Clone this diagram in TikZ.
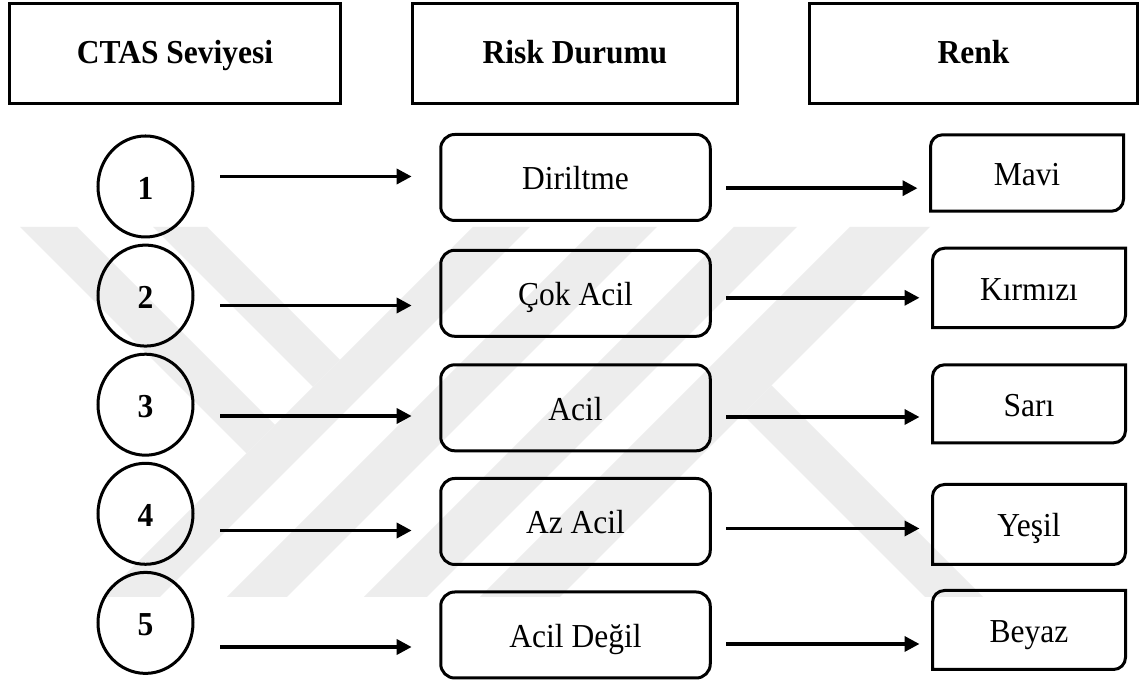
\documentclass[tikz,border=0pt]{standalone}
\usepackage{fontspec}
\setmainfont{Liberation Serif}[FakeStretch=0.94]
\usetikzlibrary{arrows.meta,shapes.geometric,calc}
\definecolor{wmark}{RGB}{237,237,237}
\begin{document}
\begin{tikzpicture}[x=1pt,y=1pt,
  txt/.style={font=\fontsize{33.5}{38}\selectfont},
  hdr/.style={draw, line width=3pt, inner sep=0pt, minimum width=#1, minimum height=100pt,
    text height=21pt, text depth=0pt, font=\fontsize{33.5}{38}\selectfont\bfseries},
  cnum/.style={ellipse, draw, line width=3pt, inner sep=0pt, minimum width=95pt, minimum height=101pt,
    text height=26pt, text depth=0pt, font=\fontsize{33.5}{38}\selectfont\bfseries},
  mbox/.style={draw, line width=3pt, rounded corners=14pt, inner sep=0pt, minimum width=269.5pt,
    minimum height=86pt, text height=25pt, text depth=0pt, txt},
  rbox/.style={inner sep=0pt, outer sep=0pt, minimum width=193pt, minimum height=#1,
    text height=25pt, text depth=0pt, txt},
  rline/.style={line width=3pt},
  arr/.style={line width=3.5pt, -{Triangle[length=15pt,width=15pt]}},
  larr/.style={arr, shorten <=25.5pt, shorten >=27.6pt},
  rarr/.style={arr, shorten <=14.3pt, shorten >=13pt}
]
\useasboundingbox (0,0) rectangle (1141,684);
\fill[white] (0,0) rectangle (1141,684);

% watermark (pixel coordinates, y downwards)
\begin{scope}[shift={(0,684)}, yscale=-1]
  \fill[wmark] (473,227) -- (530,227) -- (160,597) -- (103,597) -- cycle;
  \fill[wmark] (153,227) -- (207,227) -- (340,360) -- (313,387) -- cycle;
  \fill[wmark] (20,227) -- (77,227) -- (275,425) -- (246.5,453.5) -- cycle;
  \fill[wmark] (597,227) -- (657,227) -- (287,597) -- (227,597) -- cycle;
  \fill[wmark] (734,227) -- (797,227) -- (427,597) -- (364,597) -- cycle;
  \fill[wmark] (850,227) -- (930,227) -- (560,597) -- (480,597) -- cycle;
  \fill[wmark] (771.5,385.5) -- (983,597) -- (925,597) -- (742.5,414.5) -- cycle;
\end{scope}

% headers
\node[hdr=331pt] (h1) at (175,630.5) {CTAS Seviyesi};
\node[hdr=325pt] (h2) at (575,630.5) {Risk Durumu};
\node[hdr=328pt] (h3) at (973.5,630.5) {Renk};

% CTAS levels
\node[cnum] (c1) at (145.5,497.5) {1};
\node[cnum] (c2) at (145.5,388.4) {2};
\node[cnum] (c3) at (145.5,279.3) {3};
\node[cnum] (c4) at (145.5,170.2) {4};
\node[cnum] (c5) at (145.5,61.1) {5};

% risk states
\node[mbox] (m1) at (575.5,506.5) {Diriltme};
\node[mbox] (m2) at (575.5,390.7) {Çok Acil};
\node[mbox] (m3) at (575.5,276.2) {Acil};
\node[mbox] (m4) at (575.5,162.5) {Az Acil};
\node[mbox] (m5) at (575.5,49) {Acil Değil};

% colours
\node[rbox=76.4pt] (r1) at (1027,511) {Mavi};
\node[rbox=79.3pt] (r2) at (1029,396.1) {Kırmızı};
\node[rbox=78pt] (r3) at (1029,280.2) {Sarı};
\node[rbox=80pt] (r4) at (1029,159.5) {Yeşil};
\node[rbox=79pt] (r5) at (1029,54) {Beyaz};
\foreach \n in {r1,r2,r3,r4,r5}{
  \draw[rline] (\n.south west) -- ([yshift=-12pt]\n.north west)
    arc[start angle=180,end angle=90,radius=12pt] -- (\n.north east)
    -- ([yshift=12pt]\n.south east) arc[start angle=0,end angle=-90,radius=12pt] -- cycle;
}

% arrow heights
\coordinate (la1) at (0,507.5);
\coordinate (la2) at (0,378.5);
\coordinate (la3) at (0,268);
\coordinate (la4) at (0,153.5);
\coordinate (la5) at (0,37);
\coordinate (ra1) at (0,495.8);
\coordinate (ra2) at (0,386.2);
\coordinate (ra3) at (0,267);
\coordinate (ra4) at (0,155.5);
\coordinate (ra5) at (0,40);

\foreach \i in {1,...,5}{
  \draw[larr] (c\i.east |- la\i) -- (m\i.west |- la\i);
  \draw[rarr] (m\i.east |- ra\i) -- (r\i.west |- ra\i);
}
\end{tikzpicture}
\end{document}
